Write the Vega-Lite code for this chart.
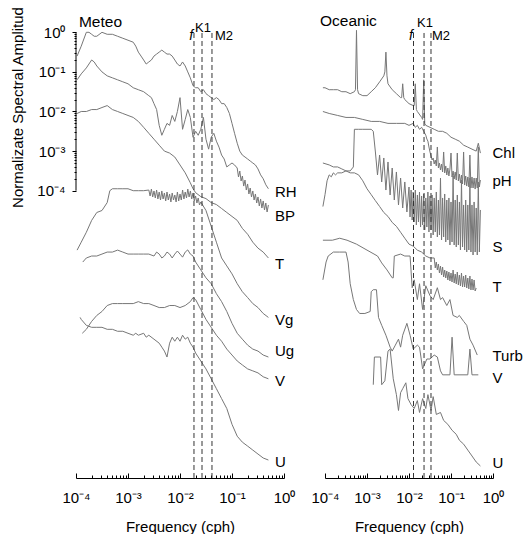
{
  "$schema": "https://vega.github.io/schema/vega-lite/v6.json",
  "padding": {"left": 10, "top": 5, "right": 0, "bottom": 0},
  "config": {"view": {"stroke": null}, "axis": {"labelFont": "Liberation Sans", "titleFont": "Liberation Sans"}, "text": {"font": "Liberation Sans"}},
  "spacing": 41,
  "bounds": "flush",
  "datasets": {
    "meteo": [
      {"s":"RH","f":1.05e-4,"a":0.251},{"s":"RH","f":1.26e-4,"a":0.447},{"s":"RH","f":1.58e-4,"a":1},{"s":"RH","f":1.78e-4,"a":1},{"s":"RH","f":2e-4,"a":0.891},{"s":"RH","f":2.24e-4,"a":0.794},{"s":"RH","f":2.51e-4,"a":0.794},{"s":"RH","f":3.16e-4,"a":1},{"s":"RH","f":3.98e-4,"a":0.891},{"s":"RH","f":5.01e-4,"a":0.891},{"s":"RH","f":6.31e-4,"a":0.794},{"s":"RH","f":7.94e-4,"a":0.708},{"s":"RH","f":1e-3,"a":0.631},{"s":"RH","f":1.26e-3,"a":0.562},{"s":"RH","f":1.41e-3,"a":0.447},{"s":"RH","f":1.58e-3,"a":0.316},{"s":"RH","f":1.78e-3,"a":0.251},{"s":"RH","f":2e-3,"a":0.2},{"s":"RH","f":2.24e-3,"a":0.158},{"s":"RH","f":2.51e-3,"a":0.178},{"s":"RH","f":2.82e-3,"a":0.2},{"s":"RH","f":3.16e-3,"a":0.251},{"s":"RH","f":3.55e-3,"a":0.282},{"s":"RH","f":3.98e-3,"a":0.316},{"s":"RH","f":4.47e-3,"a":0.355},{"s":"RH","f":5.01e-3,"a":0.316},{"s":"RH","f":5.62e-3,"a":0.282},{"s":"RH","f":6.31e-3,"a":0.282},{"s":"RH","f":7.08e-3,"a":0.251},{"s":"RH","f":7.94e-3,"a":0.2},{"s":"RH","f":8.91e-3,"a":0.158},{"s":"RH","f":1e-2,"a":0.141},{"s":"RH","f":1.12e-2,"a":0.178},{"s":"RH","f":1.26e-2,"a":0.141},{"s":"RH","f":1.41e-2,"a":0.1},{"s":"RH","f":1.58e-2,"a":0.0708},{"s":"RH","f":1.78e-2,"a":0.0447},{"s":"RH","f":2e-2,"a":0.0398},{"s":"RH","f":2.24e-2,"a":0.0398},{"s":"RH","f":2.51e-2,"a":0.0316},{"s":"RH","f":2.82e-2,"a":0.0355},{"s":"RH","f":3.16e-2,"a":0.0282},{"s":"RH","f":3.55e-2,"a":0.0251},{"s":"RH","f":3.98e-2,"a":0.0224},{"s":"RH","f":4.47e-2,"a":0.02},{"s":"RH","f":5.01e-2,"a":0.0224},{"s":"RH","f":5.62e-2,"a":0.02},{"s":"RH","f":6.31e-2,"a":0.0158},{"s":"RH","f":7.08e-2,"a":0.0158},{"s":"RH","f":7.94e-2,"a":0.0126},{"s":"RH","f":8.91e-2,"a":0.00891},{"s":"RH","f":0.1,"a":0.00501},{"s":"RH","f":0.112,"a":0.00282},{"s":"RH","f":0.126,"a":0.00158},{"s":"RH","f":0.141,"a":0.001},{"s":"RH","f":0.158,"a":7.94e-4},{"s":"RH","f":0.178,"a":7.08e-4},{"s":"RH","f":0.2,"a":6.31e-4},{"s":"RH","f":0.224,"a":5.62e-4},{"s":"RH","f":0.251,"a":5.01e-4},{"s":"RH","f":0.282,"a":4.47e-4},{"s":"RH","f":0.316,"a":3.55e-4},{"s":"RH","f":0.355,"a":2.51e-4},{"s":"RH","f":0.398,"a":2.0e-4},{"s":"RH","f":0.447,"a":1.41e-4},{"s":"RH","f":0.501,"a":1.12e-4},
      {"s":"BP","f":1.05e-4,"a":0.0631},{"s":"BP","f":1.26e-4,"a":0.0891},{"s":"BP","f":1.58e-4,"a":0.126},{"s":"BP","f":2e-4,"a":0.2},{"s":"BP","f":2.24e-4,"a":0.178},{"s":"BP","f":2.51e-4,"a":0.141},{"s":"BP","f":3.16e-4,"a":0.1},{"s":"BP","f":3.98e-4,"a":0.0794},{"s":"BP","f":5.01e-4,"a":0.0708},{"s":"BP","f":6.31e-4,"a":0.0631},{"s":"BP","f":7.94e-4,"a":0.0562},{"s":"BP","f":1e-3,"a":0.0501},{"s":"BP","f":1.26e-3,"a":0.0398},{"s":"BP","f":1.58e-3,"a":0.0355},{"s":"BP","f":2e-3,"a":0.0316},{"s":"BP","f":2.51e-3,"a":0.0251},{"s":"BP","f":2.82e-3,"a":0.0224},{"s":"BP","f":3.16e-3,"a":0.0158},{"s":"BP","f":3.55e-3,"a":0.0112},{"s":"BP","f":3.98e-3,"a":0.00447},{"s":"BP","f":4.47e-3,"a":0.00251},{"s":"BP","f":5.01e-3,"a":0.00355},{"s":"BP","f":5.62e-3,"a":0.00501},{"s":"BP","f":6.31e-3,"a":0.00447},{"s":"BP","f":7.08e-3,"a":0.00794},{"s":"BP","f":7.94e-3,"a":0.00562},{"s":"BP","f":8.91e-3,"a":0.01},{"s":"BP","f":1e-2,"a":0.0224},{"s":"BP","f":1.12e-2,"a":0.00355},{"s":"BP","f":1.26e-2,"a":0.00631},{"s":"BP","f":1.41e-2,"a":0.0112},{"s":"BP","f":1.58e-2,"a":0.00708},{"s":"BP","f":1.78e-2,"a":0.00224},{"s":"BP","f":2e-2,"a":0.00316},{"s":"BP","f":2.24e-2,"a":0.00251},{"s":"BP","f":2.51e-2,"a":0.00355},{"s":"BP","f":2.82e-2,"a":0.00708},{"s":"BP","f":3.16e-2,"a":0.002},{"s":"BP","f":3.55e-2,"a":0.00112},{"s":"BP","f":3.98e-2,"a":0.00224},{"s":"BP","f":4.47e-2,"a":0.00282},{"s":"BP","f":5.01e-2,"a":0.00178},{"s":"BP","f":5.62e-2,"a":0.00126},{"s":"BP","f":6.31e-2,"a":7.94e-4},{"s":"BP","f":7.08e-2,"a":6.31e-4},{"s":"BP","f":7.94e-2,"a":3.98e-4},{"s":"BP","f":8.91e-2,"a":4.47e-4},{"s":"BP","f":0.1,"a":5.01e-4},{"s":"BP","f":0.112,"a":4.47e-4},{"s":"BP","f":0.1259,"a":3.74e-4},{"s":"BP","f":0.1334,"a":2.22e-4},{"s":"BP","f":0.1413,"a":3.14e-4},{"s":"BP","f":0.1496,"a":1.76e-4},{"s":"BP","f":0.1585,"a":2.35e-4},{"s":"BP","f":0.1679,"a":1.31e-4},{"s":"BP","f":0.1778,"a":1.86e-4},{"s":"BP","f":0.1884,"a":1.04e-4},{"s":"BP","f":0.1995,"a":1.48e-4},{"s":"BP","f":0.2113,"a":8.26e-5},{"s":"BP","f":0.2239,"a":1.17e-4},{"s":"BP","f":0.2371,"a":6.94e-5},{"s":"BP","f":0.2512,"a":9.84e-5},{"s":"BP","f":0.2661,"a":5.82e-5},{"s":"BP","f":0.2818,"a":8.26e-5},{"s":"BP","f":0.2985,"a":4.89e-5},{"s":"BP","f":0.3162,"a":6.94e-5},{"s":"BP","f":0.335,"a":4.11e-5},{"s":"BP","f":0.3548,"a":6.18e-5},{"s":"BP","f":0.3758,"a":3.66e-5},{"s":"BP","f":0.3981,"a":5.5e-5},{"s":"BP","f":0.4217,"a":3.26e-5},{"s":"BP","f":0.4467,"a":4.89e-5},{"s":"BP","f":0.4732,"a":2.9e-5},{"s":"BP","f":0.5012,"a":4.36e-5},
      {"s":"T","f":1.05e-4,"a":0.00891},{"s":"T","f":1.26e-4,"a":0.01},{"s":"T","f":1.58e-4,"a":0.01},{"s":"T","f":2e-4,"a":0.0112},{"s":"T","f":2.51e-4,"a":0.0112},{"s":"T","f":3.16e-4,"a":0.0126},{"s":"T","f":3.98e-4,"a":0.0141},{"s":"T","f":5.01e-4,"a":0.0112},{"s":"T","f":6.31e-4,"a":0.01},{"s":"T","f":7.94e-4,"a":0.00891},{"s":"T","f":1e-3,"a":0.00794},{"s":"T","f":1.26e-3,"a":0.00708},{"s":"T","f":1.58e-3,"a":0.00562},{"s":"T","f":2e-3,"a":0.00398},{"s":"T","f":2.51e-3,"a":0.00282},{"s":"T","f":3.16e-3,"a":0.002},{"s":"T","f":3.98e-3,"a":0.00141},{"s":"T","f":5.01e-3,"a":0.001},{"s":"T","f":6.31e-3,"a":8.91e-4},{"s":"T","f":7.94e-3,"a":7.08e-4},{"s":"T","f":1e-2,"a":4.47e-4},{"s":"T","f":1.26e-2,"a":2.82e-4},{"s":"T","f":1.58e-2,"a":1.58e-4},{"s":"T","f":1.78e-2,"a":1.12e-4},{"s":"T","f":2e-2,"a":8.91e-5},{"s":"T","f":2.51e-2,"a":7.08e-5},{"s":"T","f":3.16e-2,"a":6.31e-5},{"s":"T","f":3.98e-2,"a":5.01e-5},{"s":"T","f":5.01e-2,"a":4.47e-5},{"s":"T","f":6.31e-2,"a":3.55e-5},{"s":"T","f":7.94e-2,"a":2.82e-5},{"s":"T","f":0.1,"a":2.24e-5},{"s":"T","f":0.126,"a":1.78e-5},{"s":"T","f":0.158,"a":1.12e-5},{"s":"T","f":0.2,"a":7.94e-6},{"s":"T","f":0.251,"a":5.01e-6},{"s":"T","f":0.316,"a":3.55e-6},{"s":"T","f":0.398,"a":2.82e-6},{"s":"T","f":0.501,"a":2.0e-6},
      {"s":"Vg","f":1.05e-4,"a":3.16e-6},{"s":"Vg","f":1.26e-4,"a":5.01e-6},{"s":"Vg","f":1.58e-4,"a":8.91e-6},{"s":"Vg","f":2e-4,"a":1.78e-5},{"s":"Vg","f":2.51e-4,"a":2.82e-5},{"s":"Vg","f":3.16e-4,"a":3.16e-5},{"s":"Vg","f":3.98e-4,"a":5.01e-5},{"s":"Vg","f":4.47e-4,"a":1e-4},{"s":"Vg","f":5.01e-4,"a":1.12e-4},{"s":"Vg","f":6.31e-4,"a":1.12e-4},{"s":"Vg","f":7.94e-4,"a":1.12e-4},{"s":"Vg","f":1e-3,"a":1.12e-4},{"s":"Vg","f":1.26e-3,"a":1e-4},{"s":"Vg","f":1.58e-3,"a":1e-4},{"s":"Vg","f":2e-3,"a":1e-4},{"s":"Vg","f":2.512e-3,"a":1.04e-4},{"s":"Vg","f":2.661e-3,"a":7.35e-5},{"s":"Vg","f":2.818e-3,"a":1.1e-4},{"s":"Vg","f":2.985e-3,"a":6.94e-5},{"s":"Vg","f":3.162e-3,"a":9.84e-5},{"s":"Vg","f":3.35e-3,"a":6.55e-5},{"s":"Vg","f":3.548e-3,"a":1.04e-4},{"s":"Vg","f":3.758e-3,"a":6.18e-5},{"s":"Vg","f":3.981e-3,"a":9.27e-5},{"s":"Vg","f":4.217e-3,"a":5.82e-5},{"s":"Vg","f":4.467e-3,"a":9.84e-5},{"s":"Vg","f":4.732e-3,"a":6.18e-5},{"s":"Vg","f":5.012e-3,"a":8.75e-5},{"s":"Vg","f":5.309e-3,"a":5.5e-5},{"s":"Vg","f":5.623e-3,"a":9.27e-5},{"s":"Vg","f":5.957e-3,"a":5.82e-5},{"s":"Vg","f":6.31e-3,"a":8.26e-5},{"s":"Vg","f":6.683e-3,"a":5.19e-5},{"s":"Vg","f":7.079e-3,"a":8.75e-5},{"s":"Vg","f":7.499e-3,"a":5.82e-5},{"s":"Vg","f":7.943e-3,"a":7.79e-5},{"s":"Vg","f":8.414e-3,"a":5.19e-5},{"s":"Vg","f":8.913e-3,"a":9.27e-5},{"s":"Vg","f":9.441e-3,"a":5.5e-5},{"s":"Vg","f":0.01,"a":8.26e-5},{"s":"Vg","f":0.01059,"a":5.82e-5},{"s":"Vg","f":0.01122,"a":1.04e-4},{"s":"Vg","f":0.01189,"a":6.18e-5},{"s":"Vg","f":0.01259,"a":9.27e-5},{"s":"Vg","f":0.01334,"a":6.55e-5},{"s":"Vg","f":0.01413,"a":1.1e-4},{"s":"Vg","f":0.01496,"a":6.94e-5},{"s":"Vg","f":0.01585,"a":9.84e-5},{"s":"Vg","f":0.01679,"a":6.18e-5},{"s":"Vg","f":0.01778,"a":8.75e-5},{"s":"Vg","f":0.01884,"a":5.5e-5},{"s":"Vg","f":0.01995,"a":7.35e-5},{"s":"Vg","f":0.02113,"a":4.89e-5},{"s":"Vg","f":0.02239,"a":6.55e-5},{"s":"Vg","f":0.02371,"a":4.36e-5},{"s":"Vg","f":0.02512,"a":5.19e-5},{"s":"Vg","f":3.16e-2,"a":3.16e-5},{"s":"Vg","f":3.98e-2,"a":1.26e-5},{"s":"Vg","f":5.01e-2,"a":5.01e-6},{"s":"Vg","f":6.31e-2,"a":2.0e-6},{"s":"Vg","f":7.94e-2,"a":1.26e-6},{"s":"Vg","f":0.1,"a":7.94e-7},{"s":"Vg","f":0.126,"a":4.47e-7},{"s":"Vg","f":0.158,"a":2.82e-7},{"s":"Vg","f":0.2,"a":2.0e-7},{"s":"Vg","f":0.251,"a":1.41e-7},{"s":"Vg","f":0.316,"a":1.12e-7},{"s":"Vg","f":0.398,"a":7.94e-8},{"s":"Vg","f":0.501,"a":6.31e-8},
      {"s":"Ug","f":1.35e-4,"a":1.58e-6},{"s":"Ug","f":1.58e-4,"a":2.0e-6},{"s":"Ug","f":2e-4,"a":2.24e-6},{"s":"Ug","f":2.51e-4,"a":2.24e-6},{"s":"Ug","f":3.16e-4,"a":2.51e-6},{"s":"Ug","f":3.98e-4,"a":2.82e-6},{"s":"Ug","f":5.01e-4,"a":2.82e-6},{"s":"Ug","f":6.31e-4,"a":3.16e-6},{"s":"Ug","f":7.94e-4,"a":2.82e-6},{"s":"Ug","f":1e-3,"a":2.51e-6},{"s":"Ug","f":1.26e-3,"a":2.51e-6},{"s":"Ug","f":1.58e-3,"a":2.51e-6},{"s":"Ug","f":2e-3,"a":2.51e-6},{"s":"Ug","f":2.51e-3,"a":2.51e-6},{"s":"Ug","f":3.16e-3,"a":2.24e-6},{"s":"Ug","f":3.55e-3,"a":2.82e-6},{"s":"Ug","f":3.98e-3,"a":2.51e-6},{"s":"Ug","f":4.47e-3,"a":2.0e-6},{"s":"Ug","f":5.01e-3,"a":2.24e-6},{"s":"Ug","f":5.62e-3,"a":2.82e-6},{"s":"Ug","f":6.31e-3,"a":2.51e-6},{"s":"Ug","f":7.08e-3,"a":2.0e-6},{"s":"Ug","f":7.94e-3,"a":2.51e-6},{"s":"Ug","f":8.91e-3,"a":3.0e-6},{"s":"Ug","f":1e-2,"a":2.51e-6},{"s":"Ug","f":1.12e-2,"a":2.1e-6},{"s":"Ug","f":1.26e-2,"a":2.82e-6},{"s":"Ug","f":1.41e-2,"a":3.2e-6},{"s":"Ug","f":1.58e-2,"a":2.51e-6},{"s":"Ug","f":1.78e-2,"a":2.24e-6},{"s":"Ug","f":2e-2,"a":1.58e-6},{"s":"Ug","f":2.51e-2,"a":1e-6},{"s":"Ug","f":3.16e-2,"a":6.31e-7},{"s":"Ug","f":3.98e-2,"a":4.47e-7},{"s":"Ug","f":5.01e-2,"a":2.51e-7},{"s":"Ug","f":6.31e-2,"a":1.58e-7},{"s":"Ug","f":7.94e-2,"a":8.91e-8},{"s":"Ug","f":0.1,"a":4.47e-8},{"s":"Ug","f":0.126,"a":2.51e-8},{"s":"Ug","f":0.158,"a":1.78e-8},{"s":"Ug","f":0.2,"a":1.26e-8},{"s":"Ug","f":0.251,"a":1e-8},{"s":"Ug","f":0.316,"a":8.91e-9},{"s":"Ug","f":0.398,"a":7.08e-9},{"s":"Ug","f":0.501,"a":6.31e-9},
      {"s":"V","f":1.32e-4,"a":2.51e-8},{"s":"V","f":1.58e-4,"a":3.16e-8},{"s":"V","f":2e-4,"a":5.01e-8},{"s":"V","f":2.51e-4,"a":7.08e-8},{"s":"V","f":3.16e-4,"a":8.91e-8},{"s":"V","f":3.98e-4,"a":1.26e-7},{"s":"V","f":5.01e-4,"a":1.41e-7},{"s":"V","f":6.31e-4,"a":1.41e-7},{"s":"V","f":7.94e-4,"a":1.41e-7},{"s":"V","f":1e-3,"a":1.41e-7},{"s":"V","f":1.26e-3,"a":1.41e-7},{"s":"V","f":1.58e-3,"a":1.58e-7},{"s":"V","f":2e-3,"a":1.41e-7},{"s":"V","f":2.51e-3,"a":1.41e-7},{"s":"V","f":3.16e-3,"a":1.26e-7},{"s":"V","f":3.98e-3,"a":1.12e-7},{"s":"V","f":5.01e-3,"a":1.12e-7},{"s":"V","f":6.31e-3,"a":1.26e-7},{"s":"V","f":7.94e-3,"a":1.26e-7},{"s":"V","f":1e-2,"a":1.12e-7},{"s":"V","f":1.26e-2,"a":1.26e-7},{"s":"V","f":1.58e-2,"a":1.58e-7},{"s":"V","f":1.78e-2,"a":2.0e-7},{"s":"V","f":2e-2,"a":1.78e-7},{"s":"V","f":2.51e-2,"a":1e-7},{"s":"V","f":3.16e-2,"a":5.62e-8},{"s":"V","f":3.98e-2,"a":3.55e-8},{"s":"V","f":5.01e-2,"a":2.24e-8},{"s":"V","f":6.31e-2,"a":1.58e-8},{"s":"V","f":7.94e-2,"a":1e-8},{"s":"V","f":0.1,"a":7.08e-9},{"s":"V","f":0.126,"a":5.01e-9},{"s":"V","f":0.158,"a":3.98e-9},{"s":"V","f":0.2,"a":3.16e-9},{"s":"V","f":0.251,"a":2.82e-9},{"s":"V","f":0.316,"a":2.51e-9},{"s":"V","f":0.398,"a":2.0e-9},{"s":"V","f":0.501,"a":1.78e-9},
      {"s":"U","f":1.2e-4,"a":6.31e-8},{"s":"U","f":1.26e-4,"a":5.62e-8},{"s":"U","f":1.58e-4,"a":3.98e-8},{"s":"U","f":2e-4,"a":3.55e-8},{"s":"U","f":2.51e-4,"a":3.55e-8},{"s":"U","f":3.16e-4,"a":3.55e-8},{"s":"U","f":3.98e-4,"a":3.16e-8},{"s":"U","f":5.01e-4,"a":3.16e-8},{"s":"U","f":6.31e-4,"a":2.82e-8},{"s":"U","f":7.94e-4,"a":2.82e-8},{"s":"U","f":1e-3,"a":2.51e-8},{"s":"U","f":1.26e-3,"a":2.24e-8},{"s":"U","f":1.41e-3,"a":2.51e-8},{"s":"U","f":1.58e-3,"a":2.24e-8},{"s":"U","f":2e-3,"a":2.51e-8},{"s":"U","f":2.24e-3,"a":2.0e-8},{"s":"U","f":2.51e-3,"a":2.24e-8},{"s":"U","f":3.16e-3,"a":1.78e-8},{"s":"U","f":3.98e-3,"a":1.41e-8},{"s":"U","f":4.47e-3,"a":1.12e-8},{"s":"U","f":5.01e-3,"a":8.91e-9},{"s":"U","f":5.62e-3,"a":6.31e-9},{"s":"U","f":6.31e-3,"a":1.41e-8},{"s":"U","f":7.08e-3,"a":2.0e-8},{"s":"U","f":7.94e-3,"a":1.58e-8},{"s":"U","f":8.91e-3,"a":2.0e-8},{"s":"U","f":1e-2,"a":1.58e-8},{"s":"U","f":1.12e-2,"a":2.24e-8},{"s":"U","f":1.26e-2,"a":1.78e-8},{"s":"U","f":1.41e-2,"a":2.0e-8},{"s":"U","f":1.58e-2,"a":1.41e-8},{"s":"U","f":1.78e-2,"a":1.12e-8},{"s":"U","f":2e-2,"a":7.94e-9},{"s":"U","f":2.51e-2,"a":5.01e-9},{"s":"U","f":3.16e-2,"a":3.16e-9},{"s":"U","f":3.98e-2,"a":1.78e-9},{"s":"U","f":5.01e-2,"a":1e-9},{"s":"U","f":6.31e-2,"a":5.62e-10},{"s":"U","f":7.94e-2,"a":3.16e-10},{"s":"U","f":0.1,"a":1.26e-10},{"s":"U","f":0.126,"a":6.31e-11},{"s":"U","f":0.158,"a":4.47e-11},{"s":"U","f":0.2,"a":3.55e-11},{"s":"U","f":0.251,"a":2.82e-11},{"s":"U","f":0.316,"a":2.24e-11},{"s":"U","f":0.398,"a":1.78e-11},{"s":"U","f":0.501,"a":1.58e-11}
    ],
    "oceanic": [
      {"s":"Chl","f":8.91e-5,"a":0.0398},{"s":"Chl","f":1e-4,"a":0.0398},{"s":"Chl","f":1.26e-4,"a":0.0355},{"s":"Chl","f":1.58e-4,"a":0.0355},{"s":"Chl","f":2e-4,"a":0.0355},{"s":"Chl","f":2.51e-4,"a":0.0316},{"s":"Chl","f":3.16e-4,"a":0.0316},{"s":"Chl","f":3.98e-4,"a":0.0282},{"s":"Chl","f":5.01e-4,"a":0.0316},{"s":"Chl","f":5.31e-4,"a":0.0355},{"s":"Chl","f":5.62e-4,"a":1.12},{"s":"Chl","f":5.96e-4,"a":0.0355},{"s":"Chl","f":6.31e-4,"a":0.0282},{"s":"Chl","f":7.94e-4,"a":0.0251},{"s":"Chl","f":1e-3,"a":0.0251},{"s":"Chl","f":1.26e-3,"a":0.0316},{"s":"Chl","f":1.58e-3,"a":0.0398},{"s":"Chl","f":2e-3,"a":0.0562},{"s":"Chl","f":2.51e-3,"a":0.0794},{"s":"Chl","f":2.66e-3,"a":0.1},{"s":"Chl","f":2.82e-3,"a":0.316},{"s":"Chl","f":2.99e-3,"a":0.0794},{"s":"Chl","f":3.16e-3,"a":0.0501},{"s":"Chl","f":3.98e-3,"a":0.0355},{"s":"Chl","f":5.01e-3,"a":0.0282},{"s":"Chl","f":6.31e-3,"a":0.0224},{"s":"Chl","f":6.68e-3,"a":0.0224},{"s":"Chl","f":7.08e-3,"a":0.0501},{"s":"Chl","f":7.5e-3,"a":0.0224},{"s":"Chl","f":7.94e-3,"a":0.02},{"s":"Chl","f":1e-2,"a":0.0158},{"s":"Chl","f":1.26e-2,"a":0.0141},{"s":"Chl","f":1.33e-2,"a":0.0141},{"s":"Chl","f":1.41e-2,"a":0.0501},{"s":"Chl","f":1.5e-2,"a":0.0112},{"s":"Chl","f":1.58e-2,"a":0.01},{"s":"Chl","f":2e-2,"a":0.00708},{"s":"Chl","f":2.11e-2,"a":0.00631},{"s":"Chl","f":2.24e-2,"a":0.0631},{"s":"Chl","f":2.37e-2,"a":0.00501},{"s":"Chl","f":2.51e-2,"a":0.00447},{"s":"Chl","f":3.16e-2,"a":0.00398},{"s":"Chl","f":3.98e-2,"a":0.00355},{"s":"Chl","f":5.01e-2,"a":0.00316},{"s":"Chl","f":6.31e-2,"a":0.00316},{"s":"Chl","f":7.94e-2,"a":0.00282},{"s":"Chl","f":0.1,"a":0.00224},{"s":"Chl","f":0.126,"a":0.002},{"s":"Chl","f":0.158,"a":0.00178},{"s":"Chl","f":0.2,"a":0.00141},{"s":"Chl","f":0.251,"a":0.00126},{"s":"Chl","f":0.316,"a":0.00112},{"s":"Chl","f":0.398,"a":0.001},{"s":"Chl","f":0.447,"a":0.00158},{"s":"Chl","f":0.501,"a":8.91e-4},
      {"s":"pH","f":8.91e-5,"a":1e-2},{"s":"pH","f":1.26e-4,"a":8.91e-3},{"s":"pH","f":2e-4,"a":7.94e-3},{"s":"pH","f":3.16e-4,"a":7.08e-3},{"s":"pH","f":5.01e-4,"a":7.08e-3},{"s":"pH","f":7.94e-4,"a":6.31e-3},{"s":"pH","f":1.26e-3,"a":5.62e-3},{"s":"pH","f":2e-3,"a":5.62e-3},{"s":"pH","f":3.16e-3,"a":5.01e-3},{"s":"pH","f":5.01e-3,"a":5.01e-3},{"s":"pH","f":7.94e-3,"a":5.01e-3},{"s":"pH","f":1e-2,"a":4.47e-3},{"s":"pH","f":1.26e-2,"a":5.01e-3},{"s":"pH","f":1.41e-2,"a":3.98e-3},{"s":"pH","f":1.58e-2,"a":4.47e-3},{"s":"pH","f":1.78e-2,"a":3.55e-3},{"s":"pH","f":2e-2,"a":3.98e-3},{"s":"pH","f":2.24e-2,"a":3.16e-3},{"s":"pH","f":0.02512,"a":2.51e-3},{"s":"pH","f":0.02661,"a":2.02e-3},{"s":"pH","f":0.02818,"a":1.78e-3},{"s":"pH","f":0.02985,"a":1.27e-3},{"s":"pH","f":0.03162,"a":9.49e-4},{"s":"pH","f":0.0335,"a":7.52e-4},{"s":"pH","f":0.03548,"a":5.96e-4},{"s":"pH","f":0.03758,"a":6.7e-4},{"s":"pH","f":0.03981,"a":4.72e-4},{"s":"pH","f":0.04217,"a":5.96e-4},{"s":"pH","f":0.04467,"a":4.21e-4},{"s":"pH","f":0.04732,"a":1.27e-3},{"s":"pH","f":0.05012,"a":3.74e-4},{"s":"pH","f":0.05309,"a":5.01e-4},{"s":"pH","f":0.05623,"a":3.33e-4},{"s":"pH","f":0.05957,"a":4.72e-4},{"s":"pH","f":0.0631,"a":2.97e-4},{"s":"pH","f":0.06683,"a":9.49e-4},{"s":"pH","f":0.07079,"a":2.8e-4},{"s":"pH","f":0.07499,"a":4.21e-4},{"s":"pH","f":0.07943,"a":2.49e-4},{"s":"pH","f":0.08414,"a":3.74e-4},{"s":"pH","f":0.08913,"a":2.35e-4},{"s":"pH","f":0.09441,"a":3.53e-4},{"s":"pH","f":0.1,"a":8.95e-4},{"s":"pH","f":0.1059,"a":2.22e-4},{"s":"pH","f":0.1122,"a":3.14e-4},{"s":"pH","f":0.1189,"a":1.97e-4},{"s":"pH","f":0.1259,"a":2.97e-4},{"s":"pH","f":0.1334,"a":1.86e-4},{"s":"pH","f":0.1413,"a":8.95e-4},{"s":"pH","f":0.1496,"a":1.76e-4},{"s":"pH","f":0.1585,"a":2.64e-4},{"s":"pH","f":0.1679,"a":1.56e-4},{"s":"pH","f":0.1778,"a":2.49e-4},{"s":"pH","f":0.1884,"a":1.48e-4},{"s":"pH","f":0.1995,"a":9.49e-4},{"s":"pH","f":0.2113,"a":1.39e-4},{"s":"pH","f":0.2239,"a":2.35e-4},{"s":"pH","f":0.2371,"a":1.31e-4},{"s":"pH","f":0.2512,"a":2.22e-4},{"s":"pH","f":0.2661,"a":1.24e-4},{"s":"pH","f":0.2818,"a":7.97e-4},{"s":"pH","f":0.2985,"a":1.17e-4},{"s":"pH","f":0.3162,"a":2.22e-4},{"s":"pH","f":0.335,"a":1.17e-4},{"s":"pH","f":0.3548,"a":2.09e-4},{"s":"pH","f":0.3758,"a":1.1e-4},{"s":"pH","f":0.3981,"a":2.09e-4},{"s":"pH","f":0.4217,"a":1.17e-4},{"s":"pH","f":0.4467,"a":1.27e-3},{"s":"pH","f":0.4732,"a":1.24e-4},{"s":"pH","f":0.5012,"a":1.86e-4},
      {"s":"S","f":8.91e-5,"a":5.01e-4},{"s":"S","f":1.26e-4,"a":4.47e-4},{"s":"S","f":1.58e-4,"a":3.98e-4},{"s":"S","f":2e-4,"a":3.98e-4},{"s":"S","f":2.51e-4,"a":3.55e-4},{"s":"S","f":3.16e-4,"a":3.16e-4},{"s":"S","f":3.98e-4,"a":3.16e-4},{"s":"S","f":4.73e-4,"a":3.98e-4},{"s":"S","f":5.01e-4,"a":3.55e-3},{"s":"S","f":6.31e-4,"a":3.55e-3},{"s":"S","f":7.94e-4,"a":3.55e-3},{"s":"S","f":1e-3,"a":3.55e-3},{"s":"S","f":1.26e-3,"a":3.55e-3},{"s":"S","f":1.41e-3,"a":3.16e-3},{"s":"S","f":1.585e-3,"a":9.49e-4},{"s":"S","f":1.778e-3,"a":2.49e-4},{"s":"S","f":1.995e-3,"a":7.97e-4},{"s":"S","f":2.239e-3,"a":1.66e-4},{"s":"S","f":2.512e-3,"a":6.7e-4},{"s":"S","f":2.818e-3,"a":1.04e-4},{"s":"S","f":3.162e-3,"a":5.31e-4},{"s":"S","f":3.548e-3,"a":7.79e-5},{"s":"S","f":3.981e-3,"a":3.74e-4},{"s":"S","f":4.467e-3,"a":5.82e-5},{"s":"S","f":5.012e-3,"a":2.97e-4},{"s":"S","f":5.623e-3,"a":4.36e-5},{"s":"S","f":6.31e-3,"a":2.09e-4},{"s":"S","f":7.079e-3,"a":3.66e-5},{"s":"S","f":7.943e-3,"a":1.66e-4},{"s":"S","f":8.913e-3,"a":2.9e-5},{"s":"S","f":0.01,"a":1.24e-4},{"s":"S","f":0.01059,"a":2.17e-5},{"s":"S","f":0.01122,"a":1.04e-4},{"s":"S","f":0.01189,"a":1.82e-5},{"s":"S","f":0.01259,"a":9.27e-5},{"s":"S","f":0.01334,"a":1.62e-5},{"s":"S","f":0.01413,"a":1.04e-4},{"s":"S","f":0.01496,"a":1.36e-5},{"s":"S","f":0.01585,"a":7.79e-5},{"s":"S","f":0.01679,"a":1.62e-5},{"s":"S","f":0.01778,"a":9.27e-5},{"s":"S","f":0.01884,"a":1.21e-5},{"s":"S","f":0.01995,"a":7.35e-5},{"s":"S","f":0.02113,"a":1.36e-5},{"s":"S","f":0.02239,"a":8.26e-5},{"s":"S","f":0.02371,"a":1.02e-5},{"s":"S","f":0.02512,"a":6.55e-5},{"s":"S","f":0.02661,"a":1.21e-5},{"s":"S","f":0.02818,"a":9.27e-5},{"s":"S","f":0.02985,"a":9.06e-6},{"s":"S","f":0.03162,"a":7.35e-5},{"s":"S","f":0.0335,"a":1.02e-5},{"s":"S","f":0.03548,"a":7.79e-5},{"s":"S","f":0.03758,"a":7.61e-6},{"s":"S","f":0.03981,"a":6.55e-5},{"s":"S","f":0.04217,"a":9.06e-6},{"s":"S","f":0.04467,"a":9.27e-5},{"s":"S","f":0.04732,"a":6.78e-6},{"s":"S","f":0.05012,"a":5.82e-5},{"s":"S","f":0.05309,"a":7.61e-6},{"s":"S","f":0.05623,"a":2.09e-4},{"s":"S","f":0.05957,"a":5.69e-6},{"s":"S","f":0.0631,"a":6.55e-5},{"s":"S","f":0.06683,"a":6.78e-6},{"s":"S","f":0.07079,"a":8.26e-5},{"s":"S","f":0.07499,"a":5.07e-6},{"s":"S","f":0.07943,"a":5.82e-5},{"s":"S","f":0.08414,"a":5.69e-6},{"s":"S","f":0.08913,"a":6.55e-5},{"s":"S","f":0.09441,"a":4.26e-6},{"s":"S","f":0.1,"a":5.19e-5},{"s":"S","f":0.1059,"a":5.07e-6},{"s":"S","f":0.1122,"a":2.35e-4},{"s":"S","f":0.1189,"a":4.26e-6},{"s":"S","f":0.1259,"a":5.82e-5},{"s":"S","f":0.1334,"a":3.79e-6},{"s":"S","f":0.1413,"a":7.79e-5},{"s":"S","f":0.1496,"a":4.26e-6},{"s":"S","f":0.1585,"a":5.19e-5},{"s":"S","f":0.1679,"a":3.18e-6},{"s":"S","f":0.1778,"a":1.86e-4},{"s":"S","f":0.1884,"a":3.79e-6},{"s":"S","f":0.1995,"a":4.36e-5},{"s":"S","f":0.2113,"a":3.18e-6},{"s":"S","f":0.2239,"a":5.82e-5},{"s":"S","f":0.2371,"a":2.83e-6},{"s":"S","f":0.2512,"a":4.36e-5},{"s":"S","f":0.2661,"a":3.18e-6},{"s":"S","f":0.2818,"a":2.09e-4},{"s":"S","f":0.2985,"a":2.83e-6},{"s":"S","f":0.3162,"a":4.36e-5},{"s":"S","f":0.335,"a":2.38e-6},{"s":"S","f":0.3548,"a":5.19e-5},{"s":"S","f":0.3758,"a":2.83e-6},{"s":"S","f":0.3981,"a":3.66e-5},{"s":"S","f":0.4217,"a":2.38e-6},{"s":"S","f":0.4467,"a":1.66e-4},{"s":"S","f":0.4732,"a":2.83e-6},{"s":"S","f":0.5012,"a":3.26e-5},
      {"s":"T","f":8.91e-5,"a":3.98e-5},{"s":"T","f":1e-4,"a":7.94e-5},{"s":"T","f":1.12e-4,"a":1.78e-4},{"s":"T","f":1.26e-4,"a":2.51e-4},{"s":"T","f":1.41e-4,"a":2.24e-4},{"s":"T","f":1.58e-4,"a":2.82e-4},{"s":"T","f":1.78e-4,"a":2.51e-4},{"s":"T","f":2e-4,"a":2.82e-4},{"s":"T","f":2.51e-4,"a":2.82e-4},{"s":"T","f":3.16e-4,"a":3.16e-4},{"s":"T","f":3.98e-4,"a":2.82e-4},{"s":"T","f":5.01e-4,"a":2.82e-4},{"s":"T","f":6.31e-4,"a":2.51e-4},{"s":"T","f":7.94e-4,"a":1.78e-4},{"s":"T","f":1e-3,"a":1.12e-4},{"s":"T","f":1.26e-3,"a":7.94e-5},{"s":"T","f":1.58e-3,"a":5.62e-5},{"s":"T","f":2e-3,"a":3.98e-5},{"s":"T","f":2.51e-3,"a":2.82e-5},{"s":"T","f":3.16e-3,"a":2.24e-5},{"s":"T","f":3.98e-3,"a":1.58e-5},{"s":"T","f":5.01e-3,"a":1.26e-5},{"s":"T","f":6.31e-3,"a":8.91e-6},{"s":"T","f":7.94e-3,"a":6.31e-6},{"s":"T","f":1e-2,"a":4.47e-6},{"s":"T","f":1.26e-2,"a":3.98e-6},{"s":"T","f":1.58e-2,"a":3.16e-6},{"s":"T","f":2e-2,"a":2.82e-6},{"s":"T","f":2.51e-2,"a":2.24e-6},{"s":"T","f":3.16e-2,"a":2.0e-6},{"s":"T","f":0.03981,"a":2.0e-6},{"s":"T","f":0.04217,"a":1.12e-6},{"s":"T","f":0.04467,"a":1.58e-6},{"s":"T","f":0.04732,"a":9.93e-7},{"s":"T","f":0.05012,"a":1.41e-6},{"s":"T","f":0.05309,"a":8.35e-7},{"s":"T","f":0.05623,"a":1.25e-6},{"s":"T","f":0.05957,"a":7.43e-7},{"s":"T","f":0.0631,"a":1.18e-6},{"s":"T","f":0.06683,"a":6.62e-7},{"s":"T","f":0.07079,"a":9.93e-7},{"s":"T","f":0.07499,"a":6.24e-7},{"s":"T","f":0.07943,"a":9.38e-7},{"s":"T","f":0.08414,"a":5.56e-7},{"s":"T","f":0.08913,"a":8.85e-7},{"s":"T","f":0.09441,"a":5.25e-7},{"s":"T","f":0.1,"a":8.35e-7},{"s":"T","f":0.1059,"a":4.95e-7},{"s":"T","f":0.1122,"a":9.93e-7},{"s":"T","f":0.1189,"a":4.67e-7},{"s":"T","f":0.1259,"a":7.87e-7},{"s":"T","f":0.1334,"a":4.41e-7},{"s":"T","f":0.1413,"a":8.85e-7},{"s":"T","f":0.1496,"a":4.16e-7},{"s":"T","f":0.1585,"a":7.43e-7},{"s":"T","f":0.1679,"a":3.92e-7},{"s":"T","f":0.1778,"a":8.35e-7},{"s":"T","f":0.1884,"a":3.7e-7},{"s":"T","f":0.1995,"a":7.01e-7},{"s":"T","f":0.2113,"a":3.7e-7},{"s":"T","f":0.2239,"a":7.43e-7},{"s":"T","f":0.2371,"a":3.49e-7},{"s":"T","f":0.2512,"a":6.24e-7},{"s":"T","f":0.2661,"a":3.3e-7},{"s":"T","f":0.2818,"a":7.01e-7},{"s":"T","f":0.2985,"a":3.11e-7},{"s":"T","f":0.3162,"a":5.89e-7},{"s":"T","f":0.335,"a":3.11e-7},{"s":"T","f":0.3548,"a":5.56e-7},{"s":"T","f":0.3758,"a":2.93e-7},{"s":"T","f":0.3981,"a":3.49e-7},
      {"s":"Turb","f":8.91e-5,"a":5.62e-6},{"s":"Turb","f":1.5e-4,"a":5.62e-6},{"s":"Turb","f":2.24e-4,"a":6.31e-6},{"s":"Turb","f":3.35e-4,"a":5.62e-6},{"s":"Turb","f":5.62e-4,"a":4.47e-6},{"s":"Turb","f":1e-3,"a":3.16e-6},{"s":"Turb","f":1.78e-3,"a":2.24e-6},{"s":"Turb","f":2.24e-3,"a":1.5e-6},{"s":"Turb","f":2.99e-3,"a":1e-6},{"s":"Turb","f":3.98e-3,"a":6.31e-7},{"s":"Turb","f":4.22e-3,"a":6.31e-7},{"s":"Turb","f":4.47e-3,"a":2.24e-6},{"s":"Turb","f":6.31e-3,"a":2.51e-6},{"s":"Turb","f":7.94e-3,"a":2.24e-6},{"s":"Turb","f":1.06e-2,"a":2.24e-6},{"s":"Turb","f":1.19e-2,"a":3.55e-7},{"s":"Turb","f":1.33e-2,"a":5.62e-7},{"s":"Turb","f":1.58e-2,"a":1.78e-7},{"s":"Turb","f":1.78e-2,"a":4.47e-7},{"s":"Turb","f":2.11e-2,"a":1e-7},{"s":"Turb","f":2.51e-2,"a":3.98e-7},{"s":"Turb","f":3.16e-2,"a":2.24e-7},{"s":"Turb","f":3.76e-2,"a":1.78e-7},{"s":"Turb","f":4.73e-2,"a":3.55e-7},{"s":"Turb","f":5.62e-2,"a":1.78e-7},{"s":"Turb","f":6.31e-2,"a":2.0e-7},{"s":"Turb","f":7.94e-2,"a":1.26e-7},{"s":"Turb","f":9.44e-2,"a":1.78e-7},{"s":"Turb","f":0.112,"a":7.08e-8},{"s":"Turb","f":0.141,"a":6.31e-8},{"s":"Turb","f":0.158,"a":7.08e-8},{"s":"Turb","f":0.2,"a":5.01e-8},{"s":"Turb","f":0.237,"a":3.98e-8},{"s":"Turb","f":0.282,"a":1.78e-8},{"s":"Turb","f":0.335,"a":1.26e-8},{"s":"Turb","f":0.422,"a":7.08e-9},
      {"s":"V","f":8.91e-5,"a":5.62e-7},{"s":"V","f":1.06e-4,"a":1.58e-6},{"s":"V","f":1.19e-4,"a":2.24e-6},{"s":"V","f":1.58e-4,"a":2.82e-6},{"s":"V","f":2.24e-4,"a":2.82e-6},{"s":"V","f":3.16e-4,"a":2.82e-6},{"s":"V","f":3.55e-4,"a":1.58e-6},{"s":"V","f":3.98e-4,"a":4.47e-7},{"s":"V","f":4.73e-4,"a":1.78e-7},{"s":"V","f":5.62e-4,"a":1e-7},{"s":"V","f":6.68e-4,"a":7.94e-8},{"s":"V","f":8.91e-4,"a":7.94e-8},{"s":"V","f":1.19e-3,"a":8.91e-8},{"s":"V","f":1.26e-3,"a":2.82e-7},{"s":"V","f":1.41e-3,"a":3.16e-7},{"s":"V","f":1.68e-3,"a":3.16e-7},{"s":"V","f":1.88e-3,"a":6.31e-8},{"s":"V","f":2.24e-3,"a":3.98e-8},{"s":"V","f":2.82e-3,"a":2.24e-8},{"s":"V","f":3.55e-3,"a":1.12e-8},{"s":"V","f":3.98e-3,"a":8.91e-9},{"s":"V","f":4.73e-3,"a":1.26e-8},{"s":"V","f":5.62e-3,"a":1.78e-8},{"s":"V","f":6.31e-3,"a":1.12e-8},{"s":"V","f":7.08e-3,"a":2.24e-8},{"s":"V","f":8.91e-3,"a":4.47e-8},{"s":"V","f":1.06e-2,"a":2.24e-8},{"s":"V","f":1.26e-2,"a":1e-8},{"s":"V","f":1.58e-2,"a":1.26e-8},{"s":"V","f":1.78e-2,"a":1.12e-8},{"s":"V","f":2.11e-2,"a":3.16e-9},{"s":"V","f":2.66e-2,"a":5.62e-9},{"s":"V","f":3.16e-2,"a":5.62e-9},{"s":"V","f":3.98e-2,"a":7.08e-9},{"s":"V","f":4.73e-2,"a":6.31e-9},{"s":"V","f":5.62e-2,"a":2.82e-9},{"s":"V","f":6.31e-2,"a":2.24e-9},{"s":"V","f":9.44e-2,"a":2.24e-9},{"s":"V","f":0.106,"a":2.0e-8},{"s":"V","f":0.119,"a":2.24e-9},{"s":"V","f":0.251,"a":2.24e-9},{"s":"V","f":0.282,"a":1e-8},{"s":"V","f":0.316,"a":2.24e-9},{"s":"V","f":0.447,"a":2.24e-9},
      {"s":"U","f":1.41e-3,"a":1.26e-9},{"s":"U","f":1.5e-3,"a":6.31e-9},{"s":"U","f":2.11e-3,"a":6.31e-9},{"s":"U","f":2.24e-3,"a":1.26e-9},{"s":"U","f":2.66e-3,"a":1.58e-9},{"s":"U","f":3.16e-3,"a":8.91e-9},{"s":"U","f":3.55e-3,"a":1e-8},{"s":"U","f":4.22e-3,"a":1.78e-9},{"s":"U","f":5.01e-3,"a":7.08e-10},{"s":"U","f":5.62e-3,"a":2.82e-10},{"s":"U","f":6.31e-3,"a":7.94e-10},{"s":"U","f":7.08e-3,"a":1e-9},{"s":"U","f":8.41e-3,"a":1.41e-9},{"s":"U","f":9.44e-3,"a":5.62e-10},{"s":"U","f":1.12e-2,"a":3.98e-10},{"s":"U","f":1.33e-2,"a":3.16e-10},{"s":"U","f":1.58e-2,"a":5.01e-10},{"s":"U","f":1.78e-2,"a":2.51e-10},{"s":"U","f":2.11e-2,"a":5.62e-10},{"s":"U","f":2.51e-2,"a":3.16e-10},{"s":"U","f":2.82e-2,"a":7.08e-10},{"s":"U","f":3.35e-2,"a":2.82e-10},{"s":"U","f":3.76e-2,"a":6.31e-10},{"s":"U","f":4.47e-2,"a":2.24e-10},{"s":"U","f":5.62e-2,"a":2.51e-10},{"s":"U","f":6.68e-2,"a":1.58e-10},{"s":"U","f":8.41e-2,"a":1.26e-10},{"s":"U","f":0.106,"a":8.91e-11},{"s":"U","f":0.133,"a":7.08e-11},{"s":"U","f":0.158,"a":5.01e-11},{"s":"U","f":0.2,"a":3.98e-11},{"s":"U","f":0.251,"a":2.82e-11},{"s":"U","f":0.316,"a":2.0e-11},{"s":"U","f":0.398,"a":1.41e-11},{"s":"U","f":0.501,"a":1.12e-11}
    ],
    "meteoLabels": [
      {"t":"RH","f":0.671,"a":9.27e-5},{"t":"BP","f":0.671,"a":2.3e-5},{"t":"T","f":0.671,"a":1.41e-6},{"t":"Vg","f":0.671,"a":5.43e-8},{"t":"Ug","f":0.671,"a":8.95e-9},{"t":"V","f":0.671,"a":1.56e-9},{"t":"U","f":0.671,"a":1.41e-11}
    ],
    "oceanLabels": [
      {"t":"Chl","f":0.973,"a":8.95e-4},{"t":"pH","f":0.973,"a":1.76e-4},{"t":"S","f":0.973,"a":3.78e-6},{"t":"T","f":0.973,"a":3.7e-7},{"t":"Turb","f":0.973,"a":6.7e-9},{"t":"V","f":0.973,"a":1.86e-9},{"t":"U","f":0.973,"a":1.33e-11}
    ],
    "meteoTides": [
      {"t":"f","f":0.01857,"a":0.96,"a2":5.6e-12},{"t":"K1","f":0.0265,"a":0.96,"a2":5.6e-12},{"t":"M2","f":0.0412,"a":0.96,"a2":5.6e-12}
    ],
    "oceanTides": [
      {"t":"f","f":0.0128,"a":0.96,"a2":5.6e-12},{"t":"K1","f":0.0228,"a":0.96,"a2":5.6e-12},{"t":"M2","f":0.0334,"a":0.96,"a2":5.6e-12}
    ],
    "meteoTideText": [
      {"t":"f","f":0.0178,"a":0.807},{"t":"K1","f":0.0194,"a":1.28},{"t":"M2","f":0.0471,"a":0.807}
    ],
    "oceanTideText": [
      {"t":"f","f":0.01245,"a":0.807},{"t":"K1","f":0.0155,"a":1.72},{"t":"M2","f":0.0353,"a":0.807}
    ],
    "titles": [
      {"p":"L","t":"Meteo","f":1.14e-4,"a":1.82},{"p":"R","t":"Oceanic","f":7.6e-5,"a":1.93}
    ]
  },
  "hconcat": [
    {
      "width": 208,
      "height": 473,
      "encoding": {
        "x": {"field": "f", "type": "quantitative", "scale": {"type": "log", "domain": [0.0001, 1], "nice": false},
          "axis": {"values": [0.0001,0.0002,0.0003,0.0004,0.0005,0.0006,0.0007,0.0008,0.0009,0.001,0.002,0.003,0.004,0.005,0.006,0.007,0.008,0.009,0.01,0.02,0.03,0.04,0.05,0.06,0.07,0.08,0.09,0.1,0.2,0.3,0.4,0.5,0.6,0.7,0.8,0.9,1],
            "title": "Frequency (cph)", "grid": false, "domainColor": "#000", "tickColor": "#000",
            "tickSize": {"condition": {"test": "abs(log(datum.value)/LN10 - round(log(datum.value)/LN10)) < 0.01", "value": -5}, "value": -3},
            "labelExpr": "abs(log(datum.value)/LN10 - round(log(datum.value)/LN10)) > 0.01 ? '' : round(log(datum.value)/LN10) == 0 ? '10⁰' : round(log(datum.value)/LN10) == -1 ? '10⁻¹' : round(log(datum.value)/LN10) == -2 ? '10⁻²' : round(log(datum.value)/LN10) == -3 ? '10⁻³' : '10⁻⁴'",
            "labelFontSize": 15, "labelColor": "#000", "labelPadding": 17, "labelFlush": false, "labelOverlap": false,
            "titleFontSize": 15, "titleFontWeight": "normal", "titleColor": "#000", "titleY": 41, "titleBaseline": "top"}},
        "y": {"field": "a", "type": "quantitative", "scale": {"type": "log", "domain": [5.56e-12, 4.89], "nice": false},
          "axis": {"values": [0.0001,0.0002,0.0003,0.0004,0.0005,0.0006,0.0007,0.0008,0.0009,0.001,0.002,0.003,0.004,0.005,0.006,0.007,0.008,0.009,0.01,0.02,0.03,0.04,0.05,0.06,0.07,0.08,0.09,0.1,0.2,0.3,0.4,0.5,0.6,0.7,0.8,0.9,1],
            "title": "Normalizate Spectral Amplitud", "grid": false, "domain": false, "tickColor": "#000",
            "tickSize": {"condition": {"test": "abs(log(datum.value)/LN10 - round(log(datum.value)/LN10)) < 0.01", "value": 4}, "value": 2},
            "labelExpr": "abs(log(datum.value)/LN10 - round(log(datum.value)/LN10)) > 0.01 ? '' : round(log(datum.value)/LN10) == 0 ? '10⁰' : round(log(datum.value)/LN10) == -1 ? '10⁻¹' : round(log(datum.value)/LN10) == -2 ? '10⁻²' : round(log(datum.value)/LN10) == -3 ? '10⁻³' : '10⁻⁴'",
            "labelFontSize": 15, "labelColor": "#000", "labelPadding": 7, "labelOverlap": false,
            "titleFontSize": 15, "titleFontWeight": "normal", "titleColor": "#000",
            "titleAngle": 270, "titleBaseline": "top", "titleAlign": "center", "titleX": -66, "titleY": 102}}
      },
      "layer": [
        {"data": {"name": "meteo"}, "mark": {"type": "line", "color": "#777777", "strokeWidth": 1}, "encoding": {"detail": {"field": "s"}}},
        {"data": {"values": [{"f": 0.0001, "a": 0.0001, "a2": 1}]}, "mark": {"type": "rule", "color": "#000", "strokeWidth": 1}, "encoding": {"y2": {"field": "a2"}}},
        {"data": {"name": "meteoTides"}, "mark": {"type": "rule", "color": "#333", "strokeWidth": 1, "strokeDash": [5, 3]}, "encoding": {"y2": {"field": "a2"}}},
        {"data": {"name": "meteoLabels"}, "mark": {"type": "text", "align": "left", "baseline": "middle", "fontSize": 15, "color": "#000"}, "encoding": {"text": {"field": "t"}}},
        {"data": {"name": "titles"}, "transform": [{"filter": "datum.p == 'L'"}], "mark": {"type": "text", "align": "left", "baseline": "middle", "fontSize": 15.5, "color": "#000"}, "encoding": {"text": {"field": "t"}}},
        {"data": {"name": "meteoTideText"}, "transform": [{"filter": "datum.t == 'f'"}], "mark": {"type": "text", "align": "right", "baseline": "middle", "fontSize": 14, "fontStyle": "italic", "color": "#000"}, "encoding": {"text": {"field": "t"}}},
        {"data": {"name": "meteoTideText"}, "transform": [{"filter": "datum.t != 'f'"}], "mark": {"type": "text", "align": "left", "baseline": "middle", "fontSize": 13, "color": "#000"}, "encoding": {"text": {"field": "t"}}}
      ]
    },
    {
      "width": 168,
      "height": 473,
      "encoding": {
        "x": {"field": "f", "type": "quantitative", "scale": {"type": "log", "domain": [0.0001, 1], "nice": false},
          "axis": {"values": [0.0001,0.0002,0.0003,0.0004,0.0005,0.0006,0.0007,0.0008,0.0009,0.001,0.002,0.003,0.004,0.005,0.006,0.007,0.008,0.009,0.01,0.02,0.03,0.04,0.05,0.06,0.07,0.08,0.09,0.1,0.2,0.3,0.4,0.5,0.6,0.7,0.8,0.9,1],
            "title": "Frequency (cph)", "grid": false, "domainColor": "#000", "tickColor": "#000",
            "tickSize": {"condition": {"test": "abs(log(datum.value)/LN10 - round(log(datum.value)/LN10)) < 0.01", "value": -5}, "value": -3},
            "labelExpr": "abs(log(datum.value)/LN10 - round(log(datum.value)/LN10)) > 0.01 ? '' : round(log(datum.value)/LN10) == 0 ? '10⁰' : round(log(datum.value)/LN10) == -1 ? '10⁻¹' : round(log(datum.value)/LN10) == -2 ? '10⁻²' : round(log(datum.value)/LN10) == -3 ? '10⁻³' : '10⁻⁴'",
            "labelFontSize": 15, "labelColor": "#000", "labelPadding": 17, "labelFlush": false, "labelOverlap": false,
            "titleFontSize": 15, "titleFontWeight": "normal", "titleColor": "#000", "titleY": 41, "titleBaseline": "top"}},
        "y": {"field": "a", "type": "quantitative", "scale": {"type": "log", "domain": [5.56e-12, 4.89], "nice": false}, "axis": null}
      },
      "layer": [
        {"data": {"name": "oceanic"}, "mark": {"type": "line", "color": "#777777", "strokeWidth": 1}, "encoding": {"detail": {"field": "s"}}},
        {"data": {"name": "oceanTides"}, "mark": {"type": "rule", "color": "#333", "strokeWidth": 1, "strokeDash": [5, 3]}, "encoding": {"y2": {"field": "a2"}}},
        {"data": {"name": "oceanLabels"}, "mark": {"type": "text", "align": "left", "baseline": "middle", "fontSize": 15, "color": "#000"}, "encoding": {"text": {"field": "t"}}},
        {"data": {"name": "titles"}, "transform": [{"filter": "datum.p == 'R'"}], "mark": {"type": "text", "align": "left", "baseline": "middle", "fontSize": 15.5, "color": "#000"}, "encoding": {"text": {"field": "t"}}},
        {"data": {"name": "oceanTideText"}, "transform": [{"filter": "datum.t == 'f'"}], "mark": {"type": "text", "align": "right", "baseline": "middle", "fontSize": 14, "fontStyle": "italic", "color": "#000"}, "encoding": {"text": {"field": "t"}}},
        {"data": {"name": "oceanTideText"}, "transform": [{"filter": "datum.t != 'f'"}], "mark": {"type": "text", "align": "left", "baseline": "middle", "fontSize": 13, "color": "#000"}, "encoding": {"text": {"field": "t"}}}
      ]
    }
  ]
}
